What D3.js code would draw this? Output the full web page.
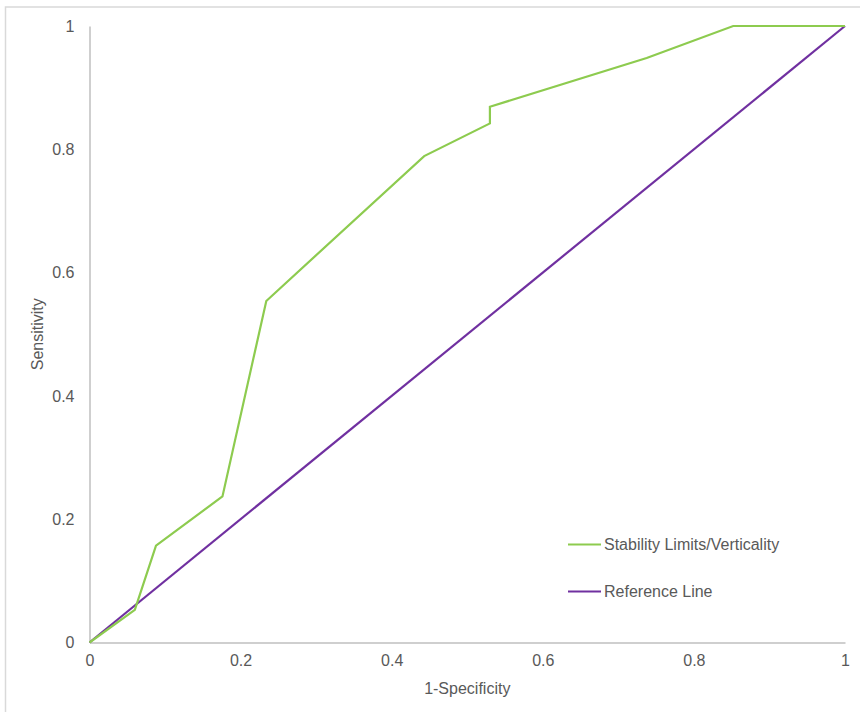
<!DOCTYPE html>
<html><head><meta charset="utf-8">
<script src="https://cdn.jsdelivr.net/npm/d3@7"></script>
<style>body{margin:0;background:#fff;} text{font-family:"Liberation Sans",Arial,sans-serif;}</style>
</head><body>
<svg id="c" width="860" height="712"></svg>
<script>
const rocX = [0, 0.060, 0.088, 0.176, 0.234, 0.443, 0.530, 0.530, 0.7375, 0.852, 1];
const rocY = [0, 0.053, 0.157, 0.237, 0.554, 0.789, 0.842, 0.869, 0.948, 1, 1];
const refX = [0, 1];
const refY = [0, 1];
const ticks = [0, 0.2, 0.4, 0.6, 0.8, 1];
const seriesNames = ["Stability Limits/Verticality", "Reference Line"];
const colors = ["#8dcb4f", "#7030a0"];

const svg = d3.select("#c");
svg.append("rect").attr("x",5.5).attr("y",7).attr("width",870).attr("height",720)
  .attr("fill","none").attr("stroke","#d9d9d9").attr("stroke-width",1.5);

const x = d3.scaleLinear().domain([0,1]).range([89.5,845]);
const y = d3.scaleLinear().domain([0,1]).range([642.5,26]);

const xa = svg.append("g").attr("transform","translate(0,"+y(0)+")")
  .call(d3.axisBottom(x).tickValues(ticks).tickFormat(d3.format("")).tickSize(0).tickPadding(12));
const ya = svg.append("g").attr("transform","translate("+x(0)+",0)")
  .call(d3.axisLeft(y).tickValues(ticks).tickFormat(d3.format("")).tickSize(0).tickPadding(15));
[xa,ya].forEach(a=>{
  a.select(".domain").attr("stroke","#bfbfbf").attr("stroke-width",1.5);
  a.selectAll("text").attr("fill","#595959").style("font-size","16px").style("font-family","'Liberation Sans',Arial,sans-serif");
});

const line = d3.line().x(d=>x(d[0])).y(d=>y(d[1]));
svg.append("path").datum(refX.map((v,i)=>[v,refY[i]])).attr("d",line)
  .attr("fill","none").attr("stroke",colors[1]).attr("stroke-width",2.2);
svg.append("path").datum(rocX.map((v,i)=>[v,rocY[i]])).attr("d",line)
  .attr("fill","none").attr("stroke",colors[0]).attr("stroke-width",2.2).attr("stroke-linejoin","miter");

svg.append("text").attr("x",(x(0)+x(1))/2).attr("y",694).attr("text-anchor","middle")
  .attr("fill","#595959").style("font-size","16px").text("1-Specificity");
svg.append("text").attr("transform","translate(43,"+((y(0)+y(1))/2)+") rotate(-90)")
  .attr("text-anchor","middle").attr("fill","#595959").style("font-size","16px").text("Sensitivity");

const legY = [544.5, 591.5];
seriesNames.forEach((n,i)=>{
  svg.append("line").attr("x1",568).attr("x2",601).attr("y1",legY[i]).attr("y2",legY[i])
    .attr("stroke",colors[i]).attr("stroke-width",2.2);
  svg.append("text").attr("x",604).attr("y",legY[i]+5.5).attr("fill","#595959")
    .style("font-size","16px").text(n);
});
</script>
</body></html>
